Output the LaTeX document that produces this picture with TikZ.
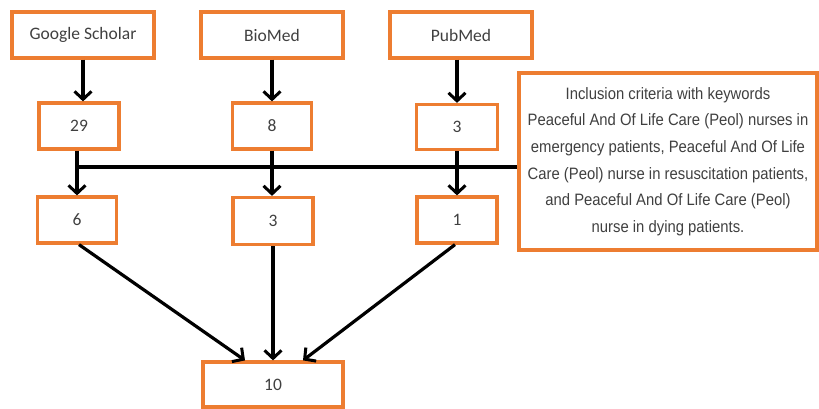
\documentclass[tikz,border=0pt]{standalone}
\usepackage{fontspec}
\setmainfont{Carlito}
\newfontfamily\incfont[FakeStretch=0.9]{Liberation Sans}
\usetikzlibrary{arrows.meta}
\definecolor{boxorange}{HTML}{ED7D31}
\definecolor{txtgray}{HTML}{404040}
\tikzset{
  box/.style={draw=boxorange, line width=3.2pt, fill=white, text=txtgray, inner sep=0pt, font=\fontsize{17.5}{20}\selectfont},
  arr/.style={draw=black, line width=3.2pt, -{Straight Barb[length=8pt,width=17pt,line width=3pt]}},
  plain/.style={draw=black, line width=3.2pt}
}
\begin{document}
\begin{tikzpicture}[x=1pt,y=-1pt]
\useasboundingbox[fill=white] (0,0) rectangle (819,408);
% top row
\node[box, minimum width=142pt, minimum height=46pt] (gs) at (83,35) {Google Scholar};
\node[box, minimum width=142pt, minimum height=46pt] (bm) at (272,35) {BioMed};
\node[box, minimum width=142pt, minimum height=46pt] (pm) at (461,35) {PubMed};
% second row
\node[box, minimum width=80pt, minimum height=46pt] (n29) at (79,126) {29};
\node[box, minimum width=79pt, minimum height=46pt] (n8) at (272,126) {8};
\node[box, minimum width=81pt, minimum height=45pt] (n3a) at (457,127) {3};
% third row
\node[box, minimum width=79pt, minimum height=46pt] (n6) at (77,220) {6};
\node[box, minimum width=80pt, minimum height=47pt] (n3b) at (273,221) {3};
\node[box, minimum width=80pt, minimum height=46pt] (n1) at (457,220) {1};
% bottom
\node[box, minimum width=140pt, minimum height=45pt] (n10) at (273,384.5) {10};
% inclusion criteria
\node[box, minimum width=298pt, minimum height=177pt, align=center,
      font=\incfont\fontsize{16.5}{26.6}\selectfont] (inc) at (668,161.5)
  {Inclusion criteria with keywords\\
   Peaceful And Of Life Care (Peol) nurses in\\
   emergency patients, Peaceful And Of Life\\
   Care (Peol) nurse in resuscitation patients,\\
   and Peaceful And Of Life Care (Peol)\\
   nurse in dying patients.};
% arrows from databases
\draw[arr] (gs.south) -- (gs.south |- n29.north);
\draw[arr] (bm.south) -- (bm.south |- n8.north);
\draw[arr] (pm.south -| n3a.north) -- (n3a.north);
% horizontal criteria line
\coordinate (hL) at (75,167);
\draw[plain] (hL) -- (hL -| inc.west);
% arrows to filtered counts
\draw[arr] (n6.north |- n29.south) -- (n6.north);
\draw[arr] (n8.south) -- (n8.south |- n3b.north);
\draw[arr] (n3a.south) -- (n1.north);
% arrows to total
\draw[arr] ([xshift=2pt]n6.south) -- ([xshift=-28pt]n10.north);
\draw[arr] (n3b.south) -- (n10.north);
\draw[arr] ([xshift=-2pt]n1.south) -- ([xshift=30pt]n10.north);
\end{tikzpicture}
\end{document}
